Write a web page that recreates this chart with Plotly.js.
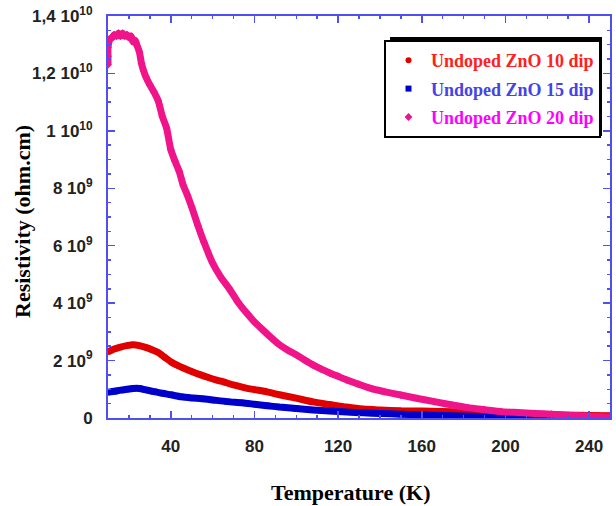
<!DOCTYPE html>
<html>
<head>
<meta charset="utf-8">
<script src="https://cdn.plot.ly/plotly-3.0.1.min.js"></script>
<style>html,body{margin:0;padding:0;background:#fff}#chart{width:616px;height:506px}</style>
</head>
<body>
<div id="chart"></div>
<script>
// Series 1: Undoped ZnO 10 dip (resistivity in ohm.cm)
const t10 = [10,13,16,19,22,25,28,31,34,37,40,43,46,50,54,58,62,66,70,75,80,86,92,100,108,116,124,132,140,150,160,170,180,190,200,210,220,230,240,250];
const r10 = [2.30e9,2.40e9,2.47e9,2.52e9,2.55e9,2.52e9,2.46e9,2.38e9,2.28e9,2.12e9,1.96e9,1.84e9,1.74e9,1.62e9,1.51e9,1.41e9,1.32e9,1.24e9,1.15e9,1.06e9,0.99e9,0.91e9,0.81e9,0.69e9,0.56e9,0.47e9,0.38e9,0.31e9,0.28e9,0.25e9,0.24e9,0.23e9,0.20e9,0.18e9,0.16e9,0.14e9,0.12e9,0.10e9,0.09e9,0.08e9];

// Series 2: Undoped ZnO 15 dip
const t15 = [10,13,16,19,22,25,28,32,36,40,45,50,55,60,67,74,80,86,92,100,108,116,124,132,140,150,160,170,180,190,200,210,220,230,240,250];
const r15 = [0.90e9,0.93e9,0.97e9,1.00e9,1.03e9,1.03e9,0.98e9,0.92e9,0.86e9,0.81e9,0.74e9,0.70e9,0.67e9,0.63e9,0.57e9,0.53e9,0.48e9,0.43e9,0.38e9,0.33e9,0.28e9,0.24e9,0.21e9,0.18e9,0.16e9,0.13e9,0.11e9,0.09e9,0.07e9,0.05e9,0.04e9,0.02e9,0.01e9,0.0,0.0,0.0];

// Series 3: Undoped ZnO 20 dip
const t20 = [10,10,10,11,12,13,14,15,16,17,18,19,20,21,22,23,24,25,26,27,28,30,32,34,36,38,40,42,44,46,48,50,53,56,60,64,68,72,76,80,84,88,92,96,100,104,108,112,116,120,124,130,136,142,150,158,166,174,182,190,198,206,214,222,230,238,246,250];
const r20 = [12.3e9,12.6e9,12.9e9,13.2e9,13.25e9,13.35e9,13.3e9,13.4e9,13.3e9,13.4e9,13.3e9,13.35e9,13.25e9,13.3e9,13.1e9,13.15e9,12.95e9,12.75e9,12.35e9,12.1e9,11.9e9,11.6e9,11.35e9,11.05e9,10.5e9,10.1e9,9.35e9,8.95e9,8.6e9,8.1e9,7.75e9,7.35e9,6.7e9,6.1e9,5.4e9,4.9e9,4.5e9,4.05e9,3.68e9,3.35e9,3.07e9,2.8e9,2.55e9,2.36e9,2.2e9,2.02e9,1.85e9,1.7e9,1.57e9,1.45e9,1.33e9,1.17e9,1.02e9,0.92e9,0.80e9,0.68e9,0.57e9,0.46e9,0.36e9,0.29e9,0.22e9,0.19e9,0.16e9,0.13e9,0.10e9,0.07e9,0.04e9,0.03e9];

const names = ['Undoped ZnO 10 dip','Undoped ZnO 15 dip','Undoped ZnO 20 dip'];

// Axis ticks
const xTickVals = [40,80,120,160,200,240];
const xTickText = ['40','80','120','160','200','240'];
const yTickVals = [0,2e9,4e9,6e9,8e9,1e10,1.2e10,1.4e10];
const yTickText = ['0','2 10<sup>9</sup>','4 10<sup>9</sup>','6 10<sup>9</sup>','8 10<sup>9</sup>','1 10<sup>10</sup>','1,2 10<sup>10</sup>','1,4 10<sup>10</sup>'];

const xTitle = 'Temperature (K)';
const yTitle = 'Resistivity (ohm.cm)';

const lineCols = ['#e00000','#0000cc','#f0148a'];
const textCols = ['#ff2020','#4444e6','#ff00ff'];
const symbols = ['circle','square','diamond'];
const xs = [t10,t15,t20], ys = [r10,r15,r20];

const traces = [];
for (let i = 0; i < 3; i++) {
  traces.push({x: xs[i], y: ys[i], type:'scatter', mode:'lines',
    line:{color:lineCols[i], width:7, shape:'spline', smoothing:0.6},
    showlegend:false, hoverinfo:'skip'});
  traces.push({x: xs[i], y: ys[i], type:'scatter', mode:'markers',
    marker:{color:lineCols[i], size:6, symbol:symbols[i]},
    name:'<span style="color:'+textCols[i]+'">'+names[i]+'</span>',
    legendgroup:'g'+i, showlegend:true});
}

const axisCol = '#5050f0';
const tickFont = {family:'"Liberation Sans Narrow","Arial Narrow","Liberation Sans",Arial,sans-serif', size:17, weight:'bold', color:'#222'};
const serifBold = {family:'"Liberation Serif","Times New Roman",serif', weight:'bold', color:'#000'};

// plot area in pixels: x 108..610, y 16..418
const L = 108, W = 502, T = 16, H = 402;
const px = v => (v - L) / W;
const py = v => (T + H - v) / H;

const layout = {
  width:616, height:506,
  margin:{l:L, r:616-L-W, t:T, b:506-T-H},
  paper_bgcolor:'#fff', plot_bgcolor:'#fff',
  showlegend:true,
  xaxis:{range:[10,250], tickvals:xTickVals, ticktext:xTickText,
    ticks:'inside', ticklen:7, tickwidth:1.5, tickcolor:axisCol,
    showline:true, linecolor:axisCol, linewidth:2, mirror:'ticks',
    showgrid:false, zeroline:false, tickfont:tickFont, ticklabelstandoff:12,
    minor:{dtick:10, tick0:0, ticks:'inside', ticklen:3, tickcolor:axisCol, showgrid:false}},
  yaxis:{range:[0,1.4e10], tickvals:yTickVals, ticktext:yTickText,
    ticks:'inside', ticklen:7, tickwidth:1.5, tickcolor:axisCol,
    showline:true, linecolor:axisCol, linewidth:2, mirror:'ticks',
    showgrid:false, zeroline:false, tickfont:tickFont, ticklabelstandoff:10,
    minor:{dtick:5e8, tick0:0, ticks:'inside', ticklen:3, tickcolor:axisCol, showgrid:false}},
  legend:{x:px(384), xanchor:'left', y:py(40), yanchor:'top',
    bgcolor:'#fff', bordercolor:'#000', borderwidth:2,
    font:Object.assign({size:18}, serifBold), tracegroupgap:2, itemwidth:35},
  annotations:[
    {text:xTitle, xref:'paper', yref:'paper', x:px(350), y:py(492), xanchor:'center', yanchor:'middle',
     showarrow:false, font:Object.assign({size:22}, serifBold)},
    {text:yTitle, xref:'paper', yref:'paper', x:px(22), y:py(222), xanchor:'center', yanchor:'middle',
     textangle:-90, showarrow:false, font:Object.assign({size:22}, serifBold)}
  ],
  shapes:[{type:'rect', xref:'paper', yref:'paper',
    x0:px(390), x1:px(602), y0:py(136), y1:py(37),
    fillcolor:'#000', line:{width:0}, layer:'above'}]
};

Plotly.newPlot('chart', traces, layout, {displayModeBar:false, staticPlot:true});
</script>
</body>
</html>
